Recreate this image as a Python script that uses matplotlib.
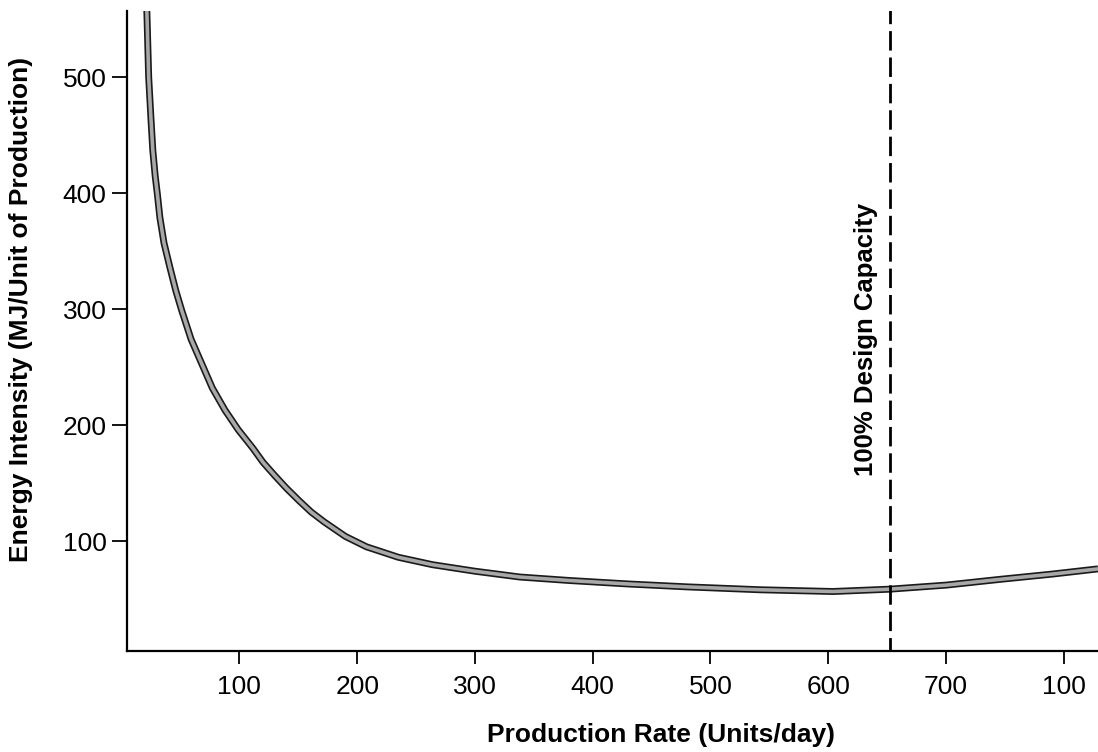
import matplotlib
matplotlib.use('Agg')
import matplotlib.pyplot as plt
import matplotlib.patheffects as pe

plt.rcParams['font.family'] = ['Liberation Sans', 'DejaVu Sans']

# curve (units/day, MJ/unit)
rate = [20, 21.5, 23, 25, 26.5, 28.5, 30.5, 32.5, 36, 41, 46, 51, 59, 68, 77, 87.7,
        99, 111.5, 120, 130, 140, 151, 161, 172, 190, 208, 235, 264, 300, 338, 380,
        430, 480, 542, 604, 652, 700, 746, 790, 829]
intensity = [600, 555, 500, 463, 437, 415, 398, 379, 357, 336, 316, 299, 274, 253,
             232, 213, 196, 180, 168, 156.5, 145.5, 134.5, 125, 116.5, 104, 95, 86,
             79.6, 74, 69, 66, 63, 60.5, 58, 56.5, 58.5, 62, 67, 71.5, 76]

design_cap = 652
xticks = [100, 200, 300, 400, 500, 600, 700, 800]
xtick_labels = ['100', '200', '300', '400', '500', '600', '700', '100']
yticks = [100, 200, 300, 400, 500]

fig = plt.figure(figsize=(10.98, 7.52), dpi=100)
ax = fig.add_axes([0.1161, 0.1343, 0.8839, 0.8511])

ax.plot(rate, intensity, color='#a8a8a8', lw=2.6, solid_capstyle='butt',
        solid_joinstyle='round',
        path_effects=[pe.Stroke(linewidth=5.0, foreground='#1a1a1a'), pe.Normal()])

vl, = ax.plot([design_cap, design_cap], [0, 600], color='black', lw=2.0)
vl.set_dashes((7, 2.5))
ax.text(design_cap - 20, 274, '100% Design Capacity', rotation=90, ha='center',
        va='center', fontsize=18.5, fontweight='bold')

ax.set_xlim(5, 829)
ax.set_ylim(5.2, 557)
ax.set_xticks(xticks)
ax.set_xticklabels(xtick_labels)
ax.set_yticks(yticks)

for s in ['top', 'right']:
    ax.spines[s].set_visible(False)
for s in ['left', 'bottom']:
    ax.spines[s].set_linewidth(1.6)

ax.tick_params(axis='x', direction='out', length=9, width=1.3, labelsize=19, pad=8)
ax.tick_params(axis='y', direction='out', length=11, width=1.3, labelsize=19, pad=4)

ax.set_xlabel('Production Rate (Units/day)', fontsize=19, fontweight='bold')
ax.set_ylabel('Energy Intensity (MJ/Unit of Production)', fontsize=19,
              fontweight='bold')
ax.xaxis.set_label_coords(0.5497, -0.1125)
ax.yaxis.set_label_coords(-0.0974, 0.533)

fig.savefig('out.png', dpi=100)
